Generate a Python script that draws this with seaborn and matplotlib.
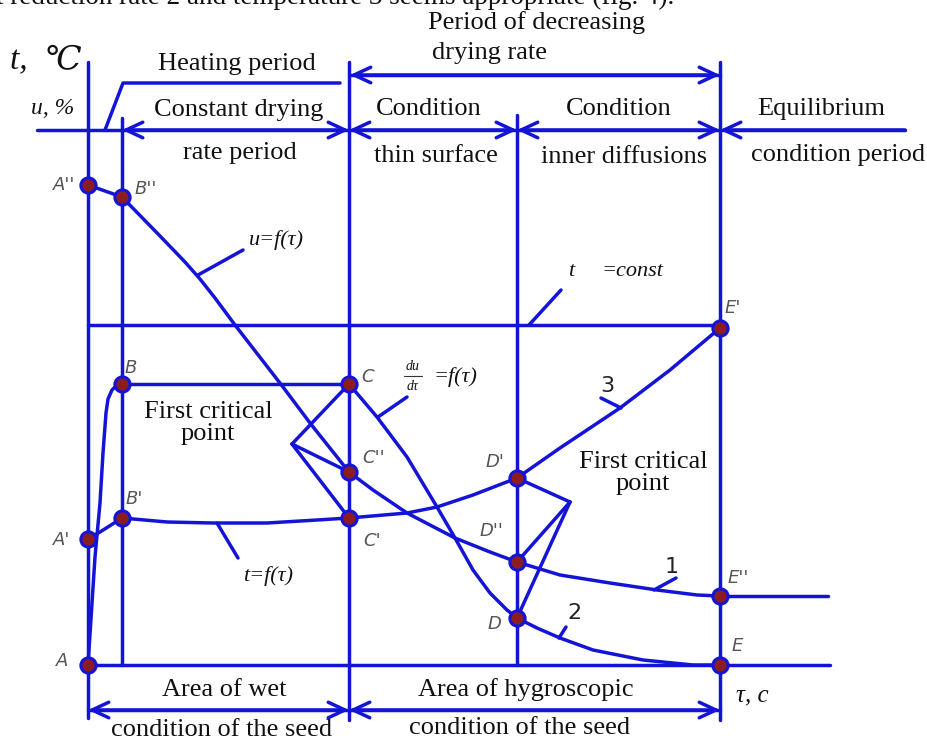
import numpy as np
import pandas as pd
import matplotlib
matplotlib.use("Agg")
import matplotlib.pyplot as plt
import seaborn as sns

sns.set_theme(style="white")
plt.rcParams["font.family"] = ["Liberation Serif", "DejaVu Serif"]

BLUE = "#1414d6"
DOT = "#8a1c22"
GRAY = "#555555"

# ---------------- data (drawing units: x = time position, y = level, downward) ----------
pt_names = ["A''", "B''", "B", "B'", "A'", "A", "C", "C''", "C'", "D'", "D''", "D", "E'", "E''", "E"]
pt_x = [88, 122, 122, 122, 88, 88, 349, 349, 349, 517, 517, 517, 720, 720, 720]
pt_y = [185, 197, 384, 518, 539, 665, 384, 472, 518, 478, 562, 618, 328, 596, 665]

# moisture curve u = f(tau)  (curve 1)
u_x = [88, 122, 160, 185, 200, 215, 235, 283, 310, 349, 373, 407, 455, 490, 517,
       560, 610, 657, 697, 720]
u_y = [185, 197, 236, 262, 279, 298, 325, 387, 423, 472, 490, 513, 538, 552, 562,
       575, 583, 590, 595, 596]

# drying rate du/dtau = f(tau)  (curve 2)
r_x = [349, 377, 407, 437, 455, 473, 490, 507, 517, 537, 560, 593, 643, 693, 720]
r_y = [384, 417, 457, 507, 538, 570, 593, 610, 618, 628, 638, 650, 660, 665, 665]

# heating of the seed from A to B
h_x = [88, 92, 95, 100, 103, 106, 108, 112, 117, 122]
h_y = [665, 603, 557, 503, 453, 413, 399, 390, 385, 384]

# seed temperature t = f(tau)  (curve 3)
t_x = [88, 100, 122, 167, 213, 267, 317, 349, 407, 437, 473, 517, 560, 620, 670, 720]
t_y = [539, 532, 518, 522, 523, 523, 520, 518, 513, 507, 495, 478, 448, 408, 370, 328]

# ---------------- geometry of the scheme -------------------------------------------------
segments = []
def seg(xs, ys):
    segments.append((list(xs), list(ys)))

# vertical period boundaries
seg([88, 88], [62, 718])
seg([122, 122], [118, 665])
seg([349, 349], [62, 720])
seg([517, 517], [115, 665])
seg([720, 720], [62, 720])
# horizontals
seg([37, 905], [130, 130])
seg([88, 720], [325, 325])
seg([122, 349], [384, 384])
seg([88, 830], [665, 665])
seg([720, 828], [596, 596])
seg([105, 123, 340], [130, 83, 83])
seg([350, 720], [75, 75])
seg([88, 720], [710, 710])
# curves
seg(u_x, u_y)
seg(r_x, r_y)
seg(h_x, h_y)
seg(t_x, t_y)
# critical point pointers
for yy in [384, 472, 518]:
    seg([292, 349], [444, yy])
for yy in [478, 562, 618]:
    seg([570, 517], [502, yy])
# label leaders
seg([198, 243], [275, 250])
seg([217, 238], [523, 558])
seg([529, 561], [325, 290])
seg([378, 407], [417, 397])
seg([621, 601], [408, 398])
seg([654, 676], [590, 578])
seg([559, 566], [638, 627])

rows = []
for i, (xs, ys) in enumerate(segments):
    for x, y in zip(xs, ys):
        rows.append({"seg": i, "x": x, "y": y})
df = pd.DataFrame(rows)

fig = plt.figure(figsize=(9.28, 7.42), dpi=100)
ax = fig.add_axes([0, 0, 1, 1])

sns.lineplot(data=df, x="x", y="y", units="seg", estimator=None, sort=False,
             color=BLUE, lw=2.5, legend=False, ax=ax)
sns.scatterplot(x=pt_x, y=pt_y, s=120, color=DOT, edgecolor=BLUE, linewidth=2.2,
                zorder=5, ax=ax, legend=False)

ax.set_xlim(0, 928)
ax.set_ylim(742, 0)
ax.axis("off")

# arrows
def arrow(x0, y0, x1, y1, style="<->"):
    ax.annotate("", xy=(x1, y1), xytext=(x0, y0),
                arrowprops=dict(arrowstyle=f"{style},head_length=0.6,head_width=0.28",
                                color=BLUE, lw=2.5, shrinkA=0, shrinkB=0,
                                mutation_scale=20))

arrow(122, 130, 349, 130)
arrow(349, 130, 517, 130)
arrow(517, 130, 720, 130)
arrow(905, 130, 720, 130, "->")
arrow(350, 75, 720, 75)
arrow(88, 710, 349, 710)
arrow(349, 710, 720, 710)

# point labels
lab_pos = {
    "A''": (64, 185), "B''": (146, 189), "B": (131, 368), "B'": (134, 499),
    "A'": (62, 540), "A": (62, 661), "C": (368, 377), "C''": (374, 458),
    "C'": (372, 541), "D'": (495, 462), "D''": (491, 531), "D": (494, 624),
    "E'": (733, 308), "E''": (738, 578), "E": (737, 646),
}
for n in pt_names:
    x, y = lab_pos[n]
    ax.text(x, y, n, color=GRAY, fontsize=13, style="italic", ha="center", va="center",
            family=["DejaVu Sans"])

# texts
FS = 19
def t(x, y, s, **kw):
    kw.setdefault("fontsize", FS)
    kw.setdefault("ha", "center")
    kw.setdefault("va", "center")
    kw.setdefault("color", "#111111")
    ax.text(x, y, s, **kw)

t(-4, 4, "t reduction rate 2 and temperature 3 seems appropriate (fig. 4).", ha="left",
  va="baseline", fontsize=19.5)
t(428, 23, "Period of decreasing", ha="left")
t(432, 53, "drying rate", ha="left")
t(237, 64, "Heating period")
t(239, 110, "Constant drying")
t(240, 153, "rate period")
t(429, 109, "Condition")
t(436, 156, "thin surface")
t(619, 109, "Condition")
t(624, 157, "inner diffusions")
t(821, 109, "Equilibrium")
t(838, 155, "condition period")
t(208, 423, "First critical\npoint", linespacing=0.95)
t(643, 473, "First critical\npoint", linespacing=0.95)
t(224, 690, "Area of wet")
t(222, 730, "condition of the seed")
t(526, 690, "Area of hygroscopic")
t(520, 728, "condition of the seed")

t(46, 60, "t,  ℃", fontsize=24, style="italic", family=["Liberation Serif", "DejaVu Serif"])
t(53, 109, "u, %", fontsize=17, style="italic")
t(752, 695, "τ, c", fontsize=18, style="italic")
t(276, 240, "u=f(τ)", fontsize=16, style="italic")
t(268, 576, "t=f(τ)", fontsize=16, style="italic")
t(571, 272, "t", fontsize=16, style="italic")
t(632, 272, "=const", fontsize=16, style="italic")
t(413, 367, "du", fontsize=10, style="italic")
ax.plot([404, 422], [376, 376], color="#333333", lw=0.8)
t(413, 386, "dτ", fontsize=10, style="italic")
t(455, 377, "=f(τ)", fontsize=16, style="italic")
t(607, 386, "3", fontsize=16, color="#222222", family=["DejaVu Sans"])
t(672, 567, "1", fontsize=16, color="#222222", family=["DejaVu Sans"])
t(574, 613, "2", fontsize=16, color="#222222", family=["DejaVu Sans"])

fig.savefig("out.png", dpi=100)
